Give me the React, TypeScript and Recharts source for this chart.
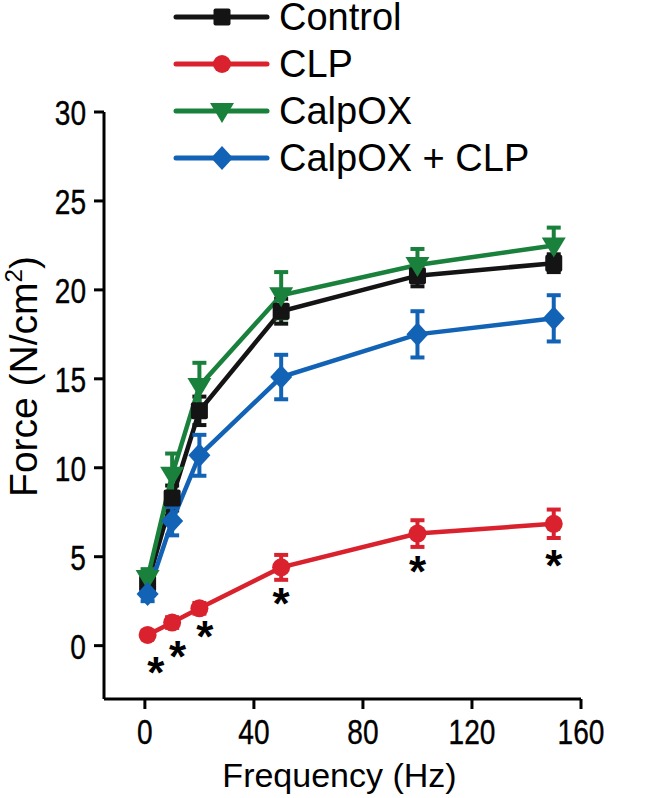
import { ComposedChart, ErrorBar, Legend, Line, XAxis, YAxis } from "recharts";

const freq = [1, 10, 20, 50, 100, 150];

const control = [3.5, 8.3, 13.2, 18.8, 20.8, 21.5];
const controlErr = [0.4, 0.7, 0.8, 0.7, 0.6, 0.5];
const clp = [0.6, 1.3, 2.1, 4.4, 6.3, 6.85];
const clpErr = [0.2, 0.3, 0.3, 0.7, 0.75, 0.8];
const calpox = [3.8, 9.6, 14.6, 19.7, 21.4, 22.5];
const calpoxErr = [0.5, 1.2, 1.3, 1.3, 0.9, 1.0];
const calpoxClp = [2.9, 7.0, 10.7, 15.1, 17.5, 18.4];
const calpoxClpErr = [0.4, 0.8, 1.15, 1.25, 1.3, 1.3];

// significance marks (CLP vs control)
const starFreq = [4, 12, 22, 50, 100, 150];
const starForce = [-1.2, -0.3, 0.8, 2.7, 4.45, 4.8];

const xTicks = [0, 40, 80, 120, 160];
const yTicks = [0, 5, 10, 15, 20, 25, 30];

const FONT = '"Liberation Sans", Arial, sans-serif';

const series = [
  { key: "control", name: "Control", color: "#141414", shape: "square" },
  { key: "calpox", name: "CalpOX", color: "#1a813c", shape: "triangle" },
  { key: "calpoxClp", name: "CalpOX + CLP", color: "#1262b5", shape: "diamond" },
  { key: "clp", name: "CLP", color: "#d9222e", shape: "circle" },
];
const legendOrder = ["control", "clp", "calpox", "calpoxClp"];

const data = freq.map((f, i) => ({
  freq: f,
  control: control[i],
  controlErr: controlErr[i],
  clp: clp[i],
  clpErr: clpErr[i],
  calpox: calpox[i],
  calpoxErr: calpoxErr[i],
  calpoxClp: calpoxClp[i],
  calpoxClpErr: calpoxClpErr[i],
}));

const stars = starFreq.map((f, i) => ({ freq: f, star: starForce[i] }));

function Marker({ shape, cx, cy, color }: { shape: string; cx: number; cy: number; color: string }) {
  if (shape === "square") return <rect x={cx - 8.5} y={cy - 8.5} width={17} height={17} rx={2} fill={color} />;
  if (shape === "circle") return <circle cx={cx} cy={cy} r={9} fill={color} />;
  if (shape === "triangle")
    return <path d={`M${cx - 12},${cy - 8} L${cx + 12},${cy - 8} L${cx},${cy + 12} Z`} fill={color} />;
  return <path d={`M${cx},${cy - 12} L${cx + 11},${cy} L${cx},${cy + 12} L${cx - 11},${cy} Z`} fill={color} />;
}

// condensed tick text, like the narrow face in the original figure
function CondText({ x, y, anchor, children }: { x: number; y: number; anchor: string; children: any }) {
  return (
    <text
      x={x}
      y={y}
      transform={`translate(${x} ${y}) scale(0.78 1) translate(${-x} ${-y})`}
      textAnchor={anchor}
      fontFamily={FONT}
      fontSize={36}
      fill="#000"
      stroke="#000"
      strokeWidth={0.4}
    >
      {children}
    </text>
  );
}

function LegendBox() {
  return (
    <svg width={650} height={180}>
      {legendOrder.map((k, i) => {
        const s = series.find((d) => d.key === k)!;
        const y = 17 + i * 47;
        return (
          <g key={k}>
            <line x1={176} x2={267} y1={y} y2={y} stroke={s.color} strokeWidth={5} strokeLinecap="round" />
            <Marker shape={s.shape} cx={222} cy={y} color={s.color} />
            <text x={279} y={y + 13} fontFamily={FONT} fontSize={38} fill="#000">
              {s.name}
            </text>
          </g>
        );
      })}
    </svg>
  );
}

export default function App() {
  return (
    <div style={{ position: "absolute", top: 0, left: 0, background: "#fff" }}>
      <ComposedChart width={650} height={798} data={data} margin={{ top: 112, right: 69, bottom: 0, left: 0 }}>
        <XAxis
          type="number"
          dataKey="freq"
          domain={[-15, 160]}
          ticks={xTicks}
          allowDataOverflow
          height={99}
          stroke="#000"
          strokeWidth={3}
          tickSize={10}
          tickMargin={2}
          tick={(p: any) => (
            <CondText key={`xt-${p.index}`} x={p.x} y={p.y + 33} anchor="middle">
              {p.payload.value}
            </CondText>
          )}
          label={{
            content: (p: any) => {
              const vb = p.viewBox;
              return (
                <text x={vb.x + vb.width / 2 - 3} y={vb.y + 88} textAnchor="middle" fontFamily={FONT} fontSize={34} fill="#000">
                  Frequency (Hz)
                </text>
              );
            },
          }}
        />
        <YAxis
          type="number"
          domain={[-3, 30]}
          ticks={yTicks}
          allowDataOverflow
          width={104}
          stroke="#000"
          strokeWidth={3}
          tickSize={10}
          tickMargin={2}
          tick={(p: any) => (
            <CondText key={`yt-${p.index}`} x={p.x - 6} y={p.y + 13} anchor="end">
              {p.payload.value}
            </CondText>
          )}
          label={{
            content: (p: any) => {
              const vb = p.viewBox;
              const cx = 37;
              const cy = vb.y + vb.height / 2 - 29;
              return (
                <text
                  x={cx}
                  y={cy}
                  transform={`rotate(-90 ${cx} ${cy})`}
                  textAnchor="middle"
                  fontFamily={FONT}
                  fontSize={39}
                  fill="#000"
                >
                  Force (N/cm<tspan dy={-15} fontSize={24}>2</tspan>
                  <tspan dy={15}>)</tspan>
                </text>
              );
            },
          }}
        />
        <Legend
          layout="horizontal"
          verticalAlign="middle"
          align="center"
          wrapperStyle={{ top: 0, left: 0, width: 650, height: 180 }}
          content={() => <LegendBox />}
        />
        {series.map((s) => (
          <Line
            key={s.key}
            dataKey={s.key}
            stroke={s.color}
            strokeWidth={4.5}
            isAnimationActive={false}
            dot={(p: any) => <Marker key={`${s.key}-${p.index}`} shape={s.shape} cx={p.cx} cy={p.cy} color={s.color} />}
            activeDot={false}
          >
            <ErrorBar dataKey={`${s.key}Err`} direction="y" width={7} strokeWidth={4} stroke={s.color} />
          </Line>
        ))}
        <Line
          data={stars}
          dataKey="star"
          stroke="none"
          isAnimationActive={false}
          activeDot={false}
          dot={(p: any) => (
            <text key={`star-${p.index}`} x={p.cx} y={p.cy + 21} textAnchor="middle" fontFamily={FONT} fontWeight="bold" fontSize={44} fill="#000">
              *
            </text>
          )}
        />
      </ComposedChart>
    </div>
  );
}
